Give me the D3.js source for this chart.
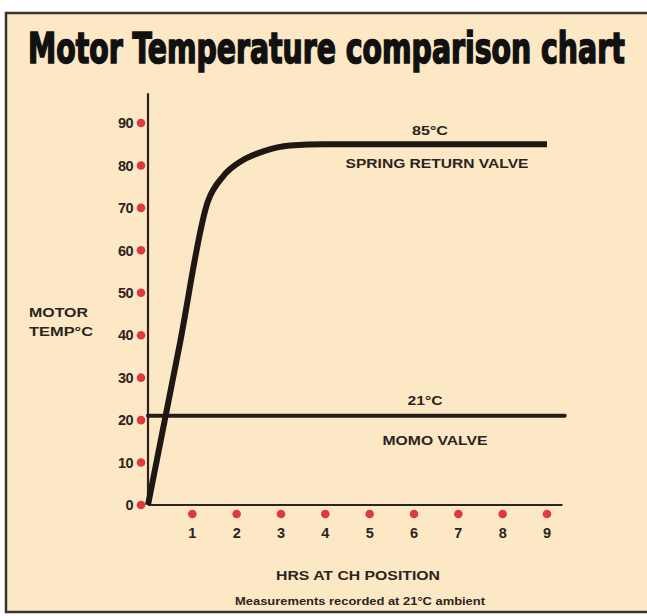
<!DOCTYPE html>
<html>
<head>
<meta charset="utf-8">
<script src="https://cdn.jsdelivr.net/npm/d3@7"></script>
<style>
  body { margin: 0; background: #fff; }
  .lbl { font-family: "Liberation Sans", Arial, sans-serif; font-weight: bold; fill: #2b2420; }
</style>
</head>
<body>
<div id="chart"></div>
<script>
// chart values
var yTicks = [0, 10, 20, 30, 40, 50, 60, 70, 80, 90];
var xTicks = [1, 2, 3, 4, 5, 6, 7, 8, 9];

// spring return valve (hours, deg C)
var springHrs  = [0, 0.7, 1.35, 1.7, 2.1, 2.6, 3.2, 4.0, 9.0];
var springTemp = [0, 37, 71.5, 77.5, 81, 83.3, 84.7, 85, 85];

// momo valve
var momoHrs  = [0, 9.4];
var momoTemp = [21, 21];

var svgWidth = 647;
var svgHeight = 616;

var svg = d3.select("#chart")
  .append("svg")
  .attr("width", svgWidth)
  .attr("height", svgHeight);

// panel
svg.append("rect")
  .attr("x", 6).attr("y", 13)
  .attr("width", 645).attr("height", 599)
  .attr("fill", "#fde8c5")
  .attr("stroke", "#3a3430")
  .attr("stroke-width", 2.5);

// title: squeeze the glyphs horizontally to get the condensed poster look
var title = svg.append("text")
  .attr("x", 0).attr("y", 0)
  .style("font-family", "'DejaVu Sans Condensed', 'DejaVu Sans', sans-serif")
  .style("font-weight", "bold")
  .style("font-size", "42px")
  .style("fill", "#111")
  .style("stroke", "#111")
  .style("stroke-width", 1.6)
  .text("Motor Temperature comparison chart");
var natural = title.node().getComputedTextLength();
title.attr("transform", `translate(28, 63) scale(${597 / natural}, 1)`);

var x = d3.scaleLinear().domain([0, 9]).range([148, 547]);
var y = d3.scaleLinear().domain([0, 90]).range([505, 123]);

var ink = "#2b2420";

// axes lines
svg.append("line")
  .attr("x1", x(0)).attr("x2", x(0))
  .attr("y1", y(0)).attr("y2", y(97))
  .attr("stroke", ink).attr("stroke-width", 2.2);

svg.append("line")
  .attr("x1", x(0)).attr("x2", x(9.35))
  .attr("y1", y(0)).attr("y2", y(0))
  .attr("stroke", ink).attr("stroke-width", 2.2);

// y ticks: red dots + labels
var yg = svg.append("g").selectAll("g").data(yTicks).enter().append("g")
  .attr("transform", d => `translate(0, ${y(d)})`);
yg.append("circle")
  .attr("cx", x(0) - 7).attr("r", 4.3)
  .attr("fill", "#dc3a3c");
yg.append("text")
  .attr("class", "lbl")
  .attr("x", x(0) - 15).attr("dy", "0.36em")
  .attr("text-anchor", "end")
  .style("font-size", "14.5px")
  .style("letter-spacing", "-0.6px")
  .text(d => d);

// x ticks
var xg = svg.append("g").selectAll("g").data(xTicks).enter().append("g")
  .attr("transform", d => `translate(${x(d)}, 0)`);
xg.append("circle")
  .attr("cy", y(0) + 9).attr("r", 4.3)
  .attr("fill", "#dc3a3c");
xg.append("text")
  .attr("class", "lbl")
  .attr("y", y(0) + 33)
  .attr("text-anchor", "middle")
  .style("font-size", "14.5px")
  .text(d => d);

// lines
var line = d3.line()
  .x(d => x(d[0]))
  .y(d => y(d[1]))
  .curve(d3.curveMonotoneX);

svg.append("path")
  .datum(d3.zip(momoHrs, momoTemp))
  .attr("d", line)
  .attr("fill", "none")
  .attr("stroke", "#241c18")
  .attr("stroke-width", 4)
  .attr("stroke-linecap", "round");

svg.append("path")
  .datum(d3.zip(springHrs, springTemp))
  .attr("d", line)
  .attr("fill", "none")
  .attr("stroke", "#1e1714")
  .attr("stroke-width", 6)
  .attr("stroke-linecap", "butt");

// line labels
function label(tx, ty, str, size, len) {
  var t = svg.append("text")
    .attr("class", "lbl")
    .attr("x", tx).attr("y", ty)
    .attr("text-anchor", "middle")
    .style("font-size", size + "px")
    .text(str);
  if (len) t.attr("textLength", len).attr("lengthAdjust", "spacingAndGlyphs");
  return t;
}

label(430, 135, "85°C", 13, 36);
label(437, 168, "SPRING RETURN VALVE", 13.5, 183);
label(425, 405, "21°C", 13, 35);
label(435, 445, "MOMO VALVE", 13.5, 105);

// y axis title
svg.append("text").attr("class", "lbl")
  .attr("x", 29).attr("y", 317)
  .attr("textLength", 59).attr("lengthAdjust", "spacingAndGlyphs")
  .style("font-size", "13.5px")
  .text("MOTOR");
svg.append("text").attr("class", "lbl")
  .attr("x", 29).attr("y", 336)
  .attr("textLength", 64).attr("lengthAdjust", "spacingAndGlyphs")
  .style("font-size", "13.5px")
  .text("TEMP°C");

// x axis title + note
label(358, 580, "HRS AT CH POSITION", 13.5, 164);
svg.append("text").attr("class", "lbl")
  .attr("x", 360).attr("y", 605)
  .attr("text-anchor", "middle")
  .attr("textLength", 250).attr("lengthAdjust", "spacingAndGlyphs")
  .style("font-size", "10.5px")
  .text("Measurements recorded at 21°C ambient");
</script>
</body>
</html>
